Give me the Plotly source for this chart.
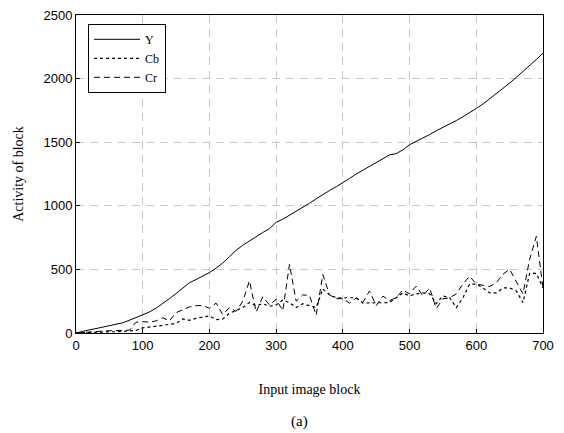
import plotly.graph_objects as go

blocks = list(range(0, 701, 10))

y_vals = [0, 15, 25, 35, 45, 55, 65, 80, 100, 120,
          140, 165, 195, 230, 270, 310, 350, 395, 420, 445,
          475, 510, 550, 600, 650, 690, 725, 760, 790, 820,
          870, 895, 925, 955, 985, 1020, 1055, 1090, 1120, 1150,
          1180, 1215, 1250, 1280, 1310, 1335, 1370, 1400, 1410, 1440,
          1480, 1505, 1530, 1560, 1590, 1615, 1640, 1670, 1700, 1730,
          1765, 1800, 1840, 1880, 1920, 1965, 2010, 2055, 2105, 2150,
          2200]

cb_vals = [0, 3, 5, 6, 8, 10, 10, 12, 12, 20,
           40, 45, 50, 60, 68, 75, 110, 100, 115, 125,
           135, 105, 110, 155, 175, 200, 240, 215, 230, 210,
           220, 260, 238, 200, 230, 215, 200, 346, 300, 277,
           277, 277, 277, 235, 238, 238, 238, 240, 277, 315,
           292, 308, 315, 308, 231, 292, 277, 200, 277, 385,
           385, 354, 315, 315, 354, 354, 331, 238, 469, 469,
           354]

cr_vals = [0, 5, 10, 12, 15, 18, 20, 22, 22, 85,
           90, 85, 95, 120, 95, 160, 185, 205, 215, 215,
           195, 235, 145, 200, 170, 250, 410, 165, 285, 220,
           265, 175, 540, 250, 300, 295, 140, 460, 300, 270,
           270, 235, 275, 240, 330, 215, 290, 255, 277, 338,
           308, 369, 292, 354, 192, 269, 277, 308, 385, 446,
           385, 375, 365, 395, 462, 500, 408, 308, 580, 760,
           354]

x_ticks = [0, 100, 200, 300, 400, 500, 600, 700]
y_ticks = [0, 500, 1000, 1500, 2000, 2500]

serif = "Liberation Serif, Times New Roman, serif"
sans = "Liberation Sans, Arial, sans-serif"

fig = go.Figure()
fig.add_trace(go.Scatter(x=blocks, y=y_vals, mode="lines", name="Y",
                         line=dict(color="black", width=1, dash="solid")))
fig.add_trace(go.Scatter(x=blocks, y=cb_vals, mode="lines", name="Cb",
                         line=dict(color="black", width=1.2, dash="dot")))
fig.add_trace(go.Scatter(x=blocks, y=cr_vals, mode="lines", name="Cr",
                         line=dict(color="black", width=1, dash="6px,4px")))

axis_common = dict(
    showline=True, linecolor="black", linewidth=1, mirror=True,
    ticks="inside", ticklen=4, tickcolor="black",
    showgrid=True, gridcolor="#c8c8c8", gridwidth=1, griddash="8px,6px",
    zeroline=False,
    tickfont=dict(family=sans, size=13, color="black"),
)

L, R, T, B = 76, 21, 8, 100
W, H = 564, 433
plot_w = W - L - R
plot_h = H - T - B

fig.update_layout(
    width=W, height=H,
    margin=dict(l=L, r=R, t=T, b=B),
    plot_bgcolor="white", paper_bgcolor="white",
    showlegend=True,
    legend=dict(
        x=(88 - L) / plot_w, y=1 - (17 - T) / plot_h, xanchor="left", yanchor="top",
        bgcolor="white", bordercolor="black", borderwidth=1,
        font=dict(family=serif, size=12, color="black"),
        itemwidth=46, tracegroupgap=0,
    ),
    xaxis=dict(range=[0, 700], tickvals=x_ticks,
               title=dict(text="Input image block", standoff=32,
                          font=dict(family=serif, size=14, color="black")),
               **axis_common),
    yaxis=dict(range=[0, 2500], tickvals=y_ticks,
               title=dict(text="Activity of block", standoff=16,
                          font=dict(family=serif, size=14, color="black")),
               **axis_common),
    annotations=[dict(text="(a)", x=(299 - L) / plot_w, y=(T + plot_h - 423) / plot_h,
                      xref="paper", yref="paper", showarrow=False, yanchor="middle",
                      font=dict(family=serif, size=15, color="black"))],
)

fig.write_html("out.html", config={"displayModeBar": False},
               post_script="document.body.style.margin='0';document.body.style.overflow='hidden';")
